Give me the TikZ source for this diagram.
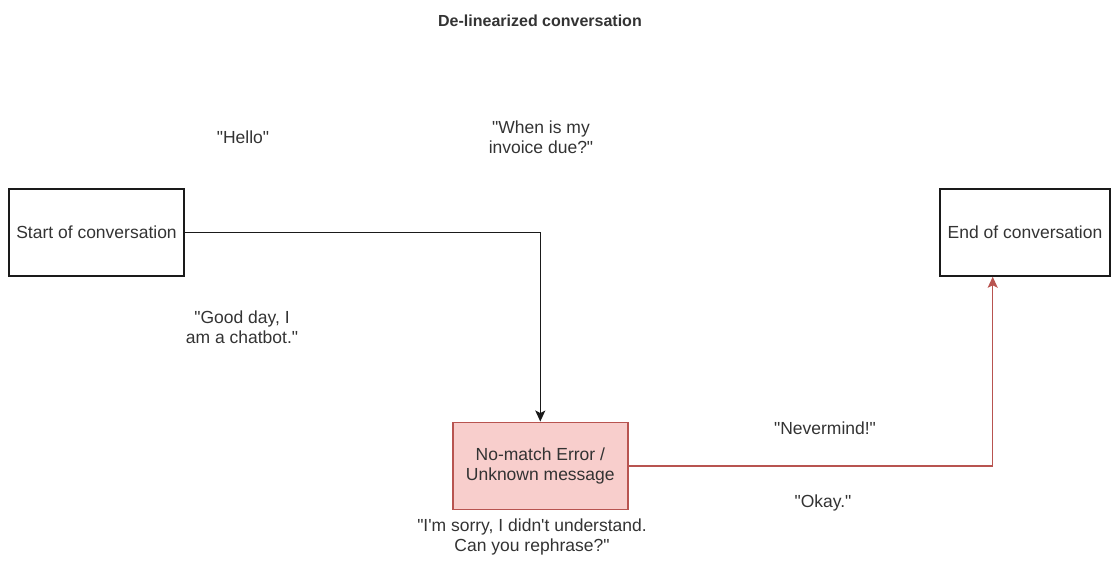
\documentclass[tikz,border=0pt]{standalone}
\usepackage{fontspec}
\setmainfont{Liberation Sans}[Ligatures=TeXOff]
\usetikzlibrary{arrows.meta}
\definecolor{txt}{HTML}{333333}
\definecolor{errfill}{HTML}{F8CECC}
\definecolor{errdraw}{HTML}{B85450}
\definecolor{boxdraw}{HTML}{1A1A1A}
\tikzset{
  lbl/.style={text=txt, font=\fontsize{17.5}{20.5}\selectfont, align=center, inner sep=0pt},
  box/.style={lbl, draw=boxdraw, line width=1.5pt, minimum height=87pt},
  errbox/.style={box, fill=errfill, draw=errdraw},
  blackarrow/.style={draw=boxdraw, line width=1.5pt, -{Stealth[length=11pt,width=10pt,inset=2.5pt]}},
  redarrow/.style={draw=errdraw, line width=1.5pt, -{Stealth[length=11pt,width=10pt,inset=2.5pt]}},
}
\begin{document}
\begin{tikzpicture}[x=1pt,y=-1pt]
\useasboundingbox (0,0) rectangle (1116,564);
\node[lbl, font=\fontsize{16}{19}\selectfont\bfseries] (title) at (540,21) {De-linearized conversation};
\node[lbl] (hello) at (243,137) {"Hello"};
\node[lbl] (when) at (541,137) {"When is my\\invoice due?"};
\node[box, minimum width=175pt] (start) at (96.5,232.5) {Start of conversation};
\node[box, minimum width=170pt] (end) at (1025,232.5) {End of conversation};
\node[lbl] (good) at (242,327) {"Good day, I\\am a chatbot."};
\node[errbox, minimum width=175pt] (err) at (540.3,465.8) {No-match Error /\\Unknown message};
\node[lbl] (sorry) at (532,537) {"I'm sorry, I didn't understand.\\Can you rephrase?"};
\node[lbl] (nev) at (825,428) {"Nevermind!"};
\node[lbl] (okay) at (823,503) {"Okay."};
\draw[blackarrow] (start.east) -| (err.north);
\draw[redarrow] (err.east) -| ([xshift=-32.3pt]end.south);
\end{tikzpicture}
\end{document}
